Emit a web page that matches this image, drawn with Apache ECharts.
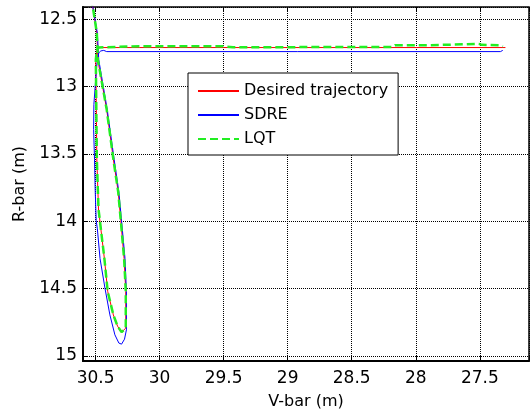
<!DOCTYPE html>
<html><head><meta charset="utf-8">
<script src="https://cdn.jsdelivr.net/npm/echarts@6/dist/echarts.min.js"></script>
<style>html,body{margin:0;padding:0;background:#fff}#c{width:532px;height:415px}</style>
</head><body><div id="c"></div>
<script>
const seriesNames = ['Desired trajectory', 'SDRE', 'LQT'];
const xTicks = [30.5, 30, 29.5, 29, 28.5, 28, 27.5];
const yTicks = [12.5, 13, 13.5, 14, 14.5, 15];

const desiredX = [30.532,30.521,30.490,30.482,30.413,30.361,30.323,30.303,30.277,30.264,30.264,30.297,30.328,30.361,30.405,30.431,30.477,30.490,30.494,30.498,30.490,30.475,30.159,29.504,28.500,27.300];
const desiredY = [12.340,12.412,12.603,12.802,13.171,13.540,13.783,13.995,14.277,14.521,14.793,14.823,14.779,14.695,14.521,14.277,13.909,13.540,13.171,12.802,12.729,12.711,12.711,12.711,12.711,12.711];

const sdreX = [30.532,30.521,30.486,30.475,30.409,30.355,30.318,30.297,30.270,30.259,30.259,30.274,30.297,30.318,30.349,30.388,30.426,30.465,30.486,30.495,30.503,30.508,30.515,30.513,30.502,30.490,30.475,30.459,30.436,30.413,28.925,27.339,27.321];
const sdreY = [12.340,12.412,12.603,12.802,13.171,13.540,13.783,13.997,14.277,14.521,14.806,14.875,14.912,14.904,14.843,14.695,14.499,14.277,14.056,13.995,13.761,13.540,13.319,13.134,12.987,12.839,12.751,12.736,12.732,12.741,12.741,12.741,12.732];

const lqtX = [30.532,30.521,30.490,30.482,30.413,30.361,30.323,30.303,30.277,30.264,30.264,30.297,30.328,30.361,30.405,30.431,30.477,30.490,30.494,30.498,30.490,30.475,30.159,29.504,29.427,28.179,28.163,27.909,27.894,27.508,27.484,27.346,27.320];
const lqtY = [12.340,12.412,12.603,12.802,13.171,13.540,13.783,13.995,14.277,14.521,14.793,14.823,14.779,14.695,14.521,14.277,13.909,13.540,13.171,12.802,12.729,12.710,12.701,12.701,12.709,12.706,12.694,12.694,12.684,12.684,12.691,12.694,12.703];

function pairs(xs, ys){ return xs.map((x,i)=>[x, ys[i]]); }
const FONT = 'DejaVu Sans';
function fmt(v){ return Math.abs(v*2 - Math.round(v*2)) < 1e-6 ? String(+v.toFixed(1)) : ''; }

const chart = echarts.init(document.getElementById('c'), null, {renderer:'canvas'});
const xMin = 27.116, xMax = 30.598, yMin = 12.41, yMax = 15.037;
chart.setOption({
  animation: false,
  backgroundColor: '#fff',
  grid: {left: 83, top: 7, right: -3, bottom: 52, show: true, borderColor: '#000', borderWidth: 1.5, backgroundColor: 'transparent'},
  legend: {
    data: seriesNames, orient: 'vertical', left: 188, top: 73,
    padding: [10, 10, 8, 9], itemGap: 8, itemWidth: 41, itemHeight: 14,
    backgroundColor: '#fff', borderColor: '#000', borderWidth: 1,
    itemStyle: {opacity: 0},
    textStyle: {fontFamily: FONT, fontSize: 16, color: '#000'}
  },
  xAxis: [{
    type: 'value', inverse: true, min: xMin, max: xMax, minInterval: 0.5, maxInterval: 0.5,
    name: 'V-bar (m)', nameLocation: 'middle', nameGap: 33,
    nameTextStyle: {fontFamily: FONT, fontSize: 16, color: '#000'},
    axisLine: {show: true, onZero: false, lineStyle: {color: '#000', width: 2}},
    axisTick: {show: true, inside: true, length: 5, lineStyle: {color: '#000'}},
    axisLabel: {fontFamily: FONT, fontSize: 17, color: '#000', margin: 9, formatter: fmt},
    splitLine: {show: true, lineStyle: {color: '#000', type: [1, 1], width: 1}}
  }, {
    type: 'value', inverse: true, position: 'top', min: xMin, max: xMax, minInterval: 0.5, maxInterval: 0.5,
    axisLine: {show: false}, axisLabel: {show: false}, splitLine: {show: false},
    axisTick: {show: true, inside: true, length: 5, lineStyle: {color: '#000'}}
  }],
  yAxis: {
    type: 'value', inverse: true, min: yMin, max: yMax, minInterval: 0.5, maxInterval: 0.5,
    name: 'R-bar (m)', nameLocation: 'middle', nameGap: 52,
    nameTextStyle: {fontFamily: FONT, fontSize: 16, color: '#000'},
    axisLine: {show: true, onZero: false, lineStyle: {color: '#000', width: 2}},
    axisTick: {show: true, inside: true, length: 5, lineStyle: {color: '#000'}},
    axisLabel: {fontFamily: FONT, fontSize: 17, color: '#000', margin: 6, formatter: fmt},
    splitLine: {show: true, lineStyle: {color: '#000', type: [1, 1], width: 1}}
  },
  series: [
    {name: seriesNames[0], type: 'line', data: pairs(desiredX, desiredY), showSymbol: false, symbol: 'none', clip: true,
     lineStyle: {color: '#ff0000', width: 1}, itemStyle: {color: '#ff0000'}},
    {name: seriesNames[1], type: 'line', data: pairs(sdreX, sdreY), showSymbol: false, symbol: 'none', clip: true,
     lineStyle: {color: '#0000ff', width: 1}, itemStyle: {color: '#0000ff'}},
    {name: seriesNames[2], type: 'line', data: pairs(lqtX, lqtY), showSymbol: false, symbol: 'none', clip: true,
     lineStyle: {color: '#22ee22', width: 2.5, type: [8, 4]}, itemStyle: {color: '#22ee22'}}
  ]
});
</script></body></html>
